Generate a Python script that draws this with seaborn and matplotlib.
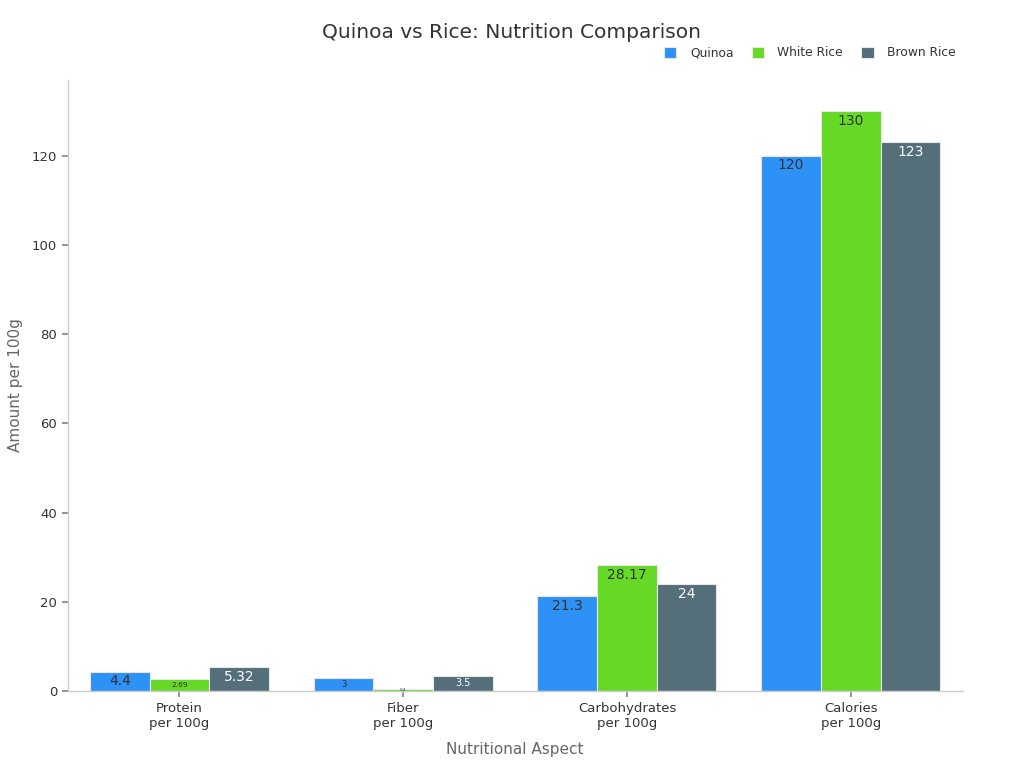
import matplotlib
matplotlib.use("Agg")
import matplotlib.pyplot as plt
import seaborn as sns
import pandas as pd

categories = ["Protein\nper 100g", "Fiber\nper 100g", "Carbohydrates\nper 100g", "Calories\nper 100g"]
series = ["Quinoa", "White Rice", "Brown Rice"]
quinoa = [4.4, 3, 21.3, 120]
white_rice = [2.69, 0.4, 28.17, 130]
brown_rice = [5.32, 3.5, 24, 123]
colors = ["#2E91F5", "#66D926", "#546E7A"]
text_colors = ["#333333", "#333333", "#ffffff"]

rows = []
for name, vals in zip(series, [quinoa, white_rice, brown_rice]):
    for c, v in zip(categories, vals):
        rows.append({"Aspect": c, "Product": name, "Value": v})
df = pd.DataFrame(rows)

sns.set_theme(style="white")
plt.rcParams['font.family'] = ['DejaVu Sans']

fig = plt.figure(figsize=(10.24, 7.68), dpi=100)
ax = fig.add_axes([0.066, 0.100, 0.874, 0.796])
sns.barplot(data=df, x="Aspect", y="Value", hue="Product", palette=colors,
            order=categories, hue_order=series, width=0.8, ax=ax, saturation=1,
            edgecolor="#e8e8e8", linewidth=0.8, legend=True)

ax.set_xlim(-0.5, 3.5)
ax.set_ylim(0, 137)
ax.set_yticks([0, 20, 40, 60, 80, 100, 120])

for i, cont in enumerate(ax.containers):
    vals = [quinoa, white_rice, brown_rice][i]
    for bar, v in zip(cont, vals):
        h = bar.get_height()
        x = bar.get_x() + bar.get_width() / 2
        lbl = f"{v:g}"
        if h >= 4:
            ax.annotate(lbl, (x, h), xytext=(0, -7), textcoords="offset points",
                        ha="center", va="center", fontsize=10, color=text_colors[i])
        else:
            fs = max(3, h * 2.0)
            ax.annotate(lbl, (x, h / 2), ha="center", va="center",
                        fontsize=fs, color=text_colors[i])

sns.despine(ax=ax)
for s in ["left", "bottom"]:
    ax.spines[s].set_color("#cccccc")
    ax.spines[s].set_linewidth(1)
ax.tick_params(axis="both", which="both", length=4, color="#888888",
               labelsize=9.5, labelcolor="#333333", left=True, bottom=True)
ax.set_xlabel("Nutritional Aspect", fontsize=11, color="#666666", labelpad=9)
ax.set_ylabel("Amount per 100g", fontsize=11, color="#666666", labelpad=6)

fig.suptitle("Quinoa vs Rice: Nutrition Comparison", fontsize=14.5, color="#333333",
             x=0.5, y=0.97)

handles, labels = ax.get_legend_handles_labels()
ax.legend_.remove()
fig.legend(handles, labels, loc="center right", bbox_to_anchor=(0.944, 0.931),
           ncol=3, frameon=False, fontsize=8.8, handlelength=1.0, handleheight=1.0,
           handletextpad=1.1, columnspacing=1.5, labelcolor="#333333")

fig.savefig("out.png", dpi=100)
